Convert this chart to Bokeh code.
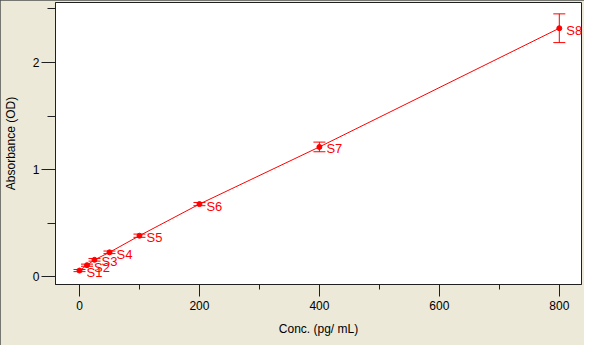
from bokeh.plotting import figure
from bokeh.models import ColumnDataSource, Whisker, TeeHead, SingleIntervalTicker, Range1d
from bokeh.core.properties import value
from bokeh.embed import file_html
from bokeh.resources import INLINE

names = ["S1", "S2", "S3", "S4", "S5", "S6", "S7", "S8"]
conc = [0, 12.5, 25, 50, 100, 200, 400, 800]
absorb = [0.06, 0.11, 0.16, 0.23, 0.385, 0.68, 1.213, 2.32]
err = [0.01, 0.01, 0.012, 0.012, 0.015, 0.015, 0.045, 0.134]

lower = [a - e for a, e in zip(absorb, err)]
upper = [a + e for a, e in zip(absorb, err)]
src = ColumnDataSource(dict(x=conc, y=absorb, lower=lower, upper=upper, name=names))

BG = "#ECE9D8"
FONT = "Liberation Sans"

p = figure(width=584, height=345, output_backend="svg", toolbar_location=None,
           x_range=Range1d(-40, 837), y_range=Range1d(-0.07, 2.56),
           min_border_left=55, min_border_right=3, min_border_top=2, min_border_bottom=61)
p.styles = {"outline": "1px solid #505050", "outline-offset": "-1px"}
p.background_fill_color = "white"
p.border_fill_color = BG
p.outline_line_color = "#202020"
p.outline_line_width = 1
p.xgrid.visible = False
p.ygrid.visible = False

p.xaxis.ticker = SingleIntervalTicker(interval=200, num_minor_ticks=2)
p.yaxis.ticker = SingleIntervalTicker(interval=1, num_minor_ticks=2)
for ax in (p.xaxis, p.yaxis):
    ax.axis_line_color = "#202020"
    ax.major_tick_line_color = "#202020"
    ax.minor_tick_line_color = "#202020"
    ax.major_tick_in = 0
    ax.minor_tick_in = 0
    ax.major_label_text_font = FONT
    ax.major_label_text_font_size = "12px"
    ax.major_label_text_color = "black"
    ax.axis_label_text_font = FONT
    ax.axis_label_text_font_size = "12px"
    ax.axis_label_text_font_style = "normal"
    ax.axis_label_text_color = "black"

p.xaxis.axis_label = "Conc. (pg/ mL)"
p.xaxis.major_tick_out = 12
p.xaxis.minor_tick_out = 5
p.xaxis.major_label_standoff = 4
p.xaxis.axis_label_standoff = 9

p.yaxis.axis_label = "Absorbance (OD)"
p.yaxis.major_tick_out = 14
p.yaxis.minor_tick_out = 8
p.yaxis.major_label_standoff = 2
p.yaxis.axis_label_standoff = 12

p.line("x", "y", source=src, line_color="red", line_width=1)
w = Whisker(base="x", lower="lower", upper="upper", source=src, dimension="height",
            line_color="red", line_width=1,
            upper_head=TeeHead(size=12, line_color="red", line_width=1),
            lower_head=TeeHead(size=12, line_color="red", line_width=1))
p.add_layout(w)
p.scatter("x", "y", source=src, size=5, fill_color="red", line_color="red")
p.text("x", "y", text="name", source=src, x_offset=7, y_offset=2,
       text_color="red", text_font=value(FONT), text_font_size="13px",
       text_baseline="middle", text_align="left")

open("out.html", "w").write(file_html(p, INLINE))
